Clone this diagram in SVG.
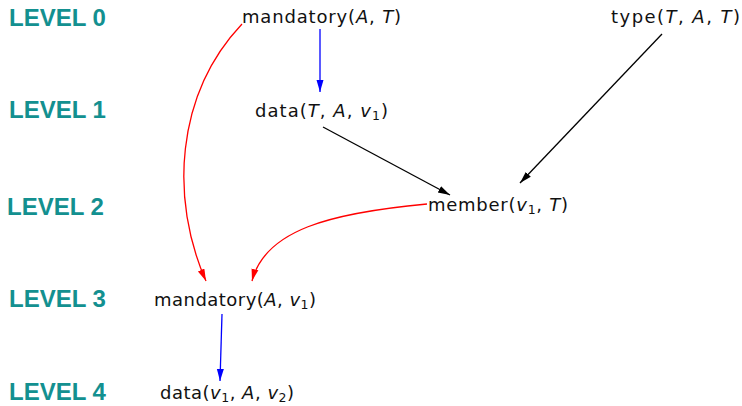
<svg xmlns="http://www.w3.org/2000/svg" width="742" height="406" viewBox="0 0 742 406">
<style>
.lvl{font-family:"Liberation Sans",Arial,sans-serif;font-weight:bold;font-size:24px;fill:#139090}
.n{font-family:"DejaVu Sans","Noto Sans",sans-serif;font-size:18px;fill:#111}
.i{font-style:italic}
.s{font-size:12.5px}
.e{fill:none;stroke-width:1.3}
</style>
<defs>
<marker id="ab" viewBox="0 0 12 10" refX="12" refY="5" markerWidth="12" markerHeight="10" markerUnits="userSpaceOnUse" orient="auto"><path d="M0,1.5 L12,5 L0,8.5 z" fill="#0000ff"/></marker>
<marker id="ak" viewBox="0 0 12 10" refX="12" refY="5" markerWidth="12" markerHeight="10" markerUnits="userSpaceOnUse" orient="auto"><path d="M0,1.5 L12,5 L0,8.5 z" fill="#000"/></marker>
<marker id="ar" viewBox="0 0 12 10" refX="12" refY="5" markerWidth="12" markerHeight="10" markerUnits="userSpaceOnUse" orient="auto"><path d="M0,1.5 L12,5 L0,8.5 z" fill="#ff0000"/></marker>
</defs>
<g id="levels">
<text class="lvl" x="9" y="26">LEVEL 0</text>
<text class="lvl" x="9" y="118">LEVEL 1</text>
<text class="lvl" x="7" y="215">LEVEL 2</text>
<text class="lvl" x="9" y="307">LEVEL 3</text>
<text class="lvl" x="9" y="400">LEVEL 4</text>
</g>
<g id="connectors">
<path class="e" d="M320,29 L320,92" stroke="#0000ff" marker-end="url(#ab)"/>
<path class="e" d="M662,34 L520,183" stroke="#000" stroke-width="1" marker-end="url(#ak)"/>
<path class="e" d="M323,127 L450,195" stroke="#000" stroke-width="1" marker-end="url(#ak)"/>
<path class="e" d="M242,24 C175,95 170,200 206,281" stroke="#ff0000" marker-end="url(#ar)"/>
<path class="e" d="M427,204 C330,213 265,230 252,281" stroke="#ff0000" marker-end="url(#ar)"/>
<path class="e" d="M222,314 L220,381" stroke="#0000ff" marker-end="url(#ab)"/>
</g>
<g id="n0"><text class="n" x="242" y="23" textLength="159" lengthAdjust="spacing">mandatory(<tspan class="i">A</tspan>, <tspan class="i">T</tspan>)</text></g>
<g id="n1"><text class="n" x="611" y="23" textLength="129" lengthAdjust="spacing">type(<tspan class="i">T</tspan>, <tspan class="i">A</tspan>, <tspan class="i">T</tspan>)</text></g>
<g id="n2"><text class="n" x="255" y="117" textLength="133" lengthAdjust="spacing">data(<tspan class="i">T</tspan>, <tspan class="i">A</tspan>, <tspan class="i">v</tspan><tspan class="s" dy="3">1</tspan><tspan dy="-3">)</tspan></text></g>
<g id="n3"><text class="n" x="428" y="211" textLength="140" lengthAdjust="spacing">member(<tspan class="i">v</tspan><tspan class="s" dy="3">1</tspan><tspan dy="-3">, </tspan><tspan class="i">T</tspan>)</text></g>
<g id="n4"><text class="n" x="154" y="306" textLength="162" lengthAdjust="spacing">mandatory(<tspan class="i">A</tspan>, <tspan class="i">v</tspan><tspan class="s" dy="3">1</tspan><tspan dy="-3">)</tspan></text></g>
<g id="n5"><text class="n" x="160" y="399" textLength="134" lengthAdjust="spacing">data(<tspan class="i">v</tspan><tspan class="s" dy="3">1</tspan><tspan dy="-3">, </tspan><tspan class="i">A</tspan>, <tspan class="i">v</tspan><tspan class="s" dy="3">2</tspan><tspan dy="-3">)</tspan></text></g>
</svg>
